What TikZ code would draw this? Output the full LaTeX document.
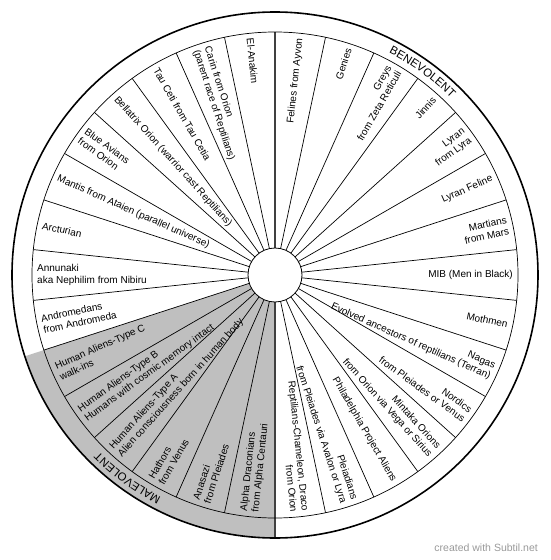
\documentclass[tikz,border=0pt]{standalone}
\usepackage{fontspec}
\setmainfont{Liberation Sans}
\usetikzlibrary{decorations.text}

\begin{document}
\begin{tikzpicture}[x=1pt, y=1pt,
    rlab/.style={anchor=east, align=right, inner sep=0pt, font=\fontsize{10}{11.5}\selectfont},
    llab/.style={anchor=west, align=left, inner sep=0pt, font=\fontsize{10}{11.5}\selectfont},
    spoke/.style={line width=0.7pt},
    divide/.style={line width=1.1pt, black!75},
    band/.style={decorate, decoration={text along path, text align=center, text={|\fontsize{11.5}{13}\selectfont|#1}}}]
    \useasboundingbox (-275,-285) rectangle (275,275);

    % Malevolent wedge
    \fill[gray!50] (0,0) -- (198:263) arc[start angle=198, end angle=270, radius=263] -- cycle;

    % Spokes (30 sectors of 12 degrees)
    \draw[spoke] (6:27) -- (6:243) (18:27) -- (18:243) (30:27) -- (30:243) (42:27) -- (42:243)
      (54:27) -- (54:243) (66:27) -- (66:243) (78:27) -- (78:243) (102:27) -- (102:243)
      (114:27) -- (114:243) (126:27) -- (126:243) (138:27) -- (138:243) (150:27) -- (150:243)
      (162:27) -- (162:243) (174:27) -- (174:243) (186:27) -- (186:243) (198:27) -- (198:243)
      (210:27) -- (210:243) (222:27) -- (222:243) (234:27) -- (234:243) (246:27) -- (246:243)
      (258:27) -- (258:243) (282:27) -- (282:243) (294:27) -- (294:243) (306:27) -- (306:243)
      (318:27) -- (318:243) (330:27) -- (330:243) (342:27) -- (342:243) (354:27) -- (354:243);
    \draw[divide] (90:27) -- (90:243);
    \draw[divide] (270:27) -- (270:263);

    % Rings and hub
    \draw[line width=0.7pt] (0,0) circle (243);
    \draw[line width=1.6pt] (0,0) circle (263);
    \draw[line width=0.8pt, fill=white] (0,0) circle (27);

    % Band texts
    \path[band=BENEVOLENT] (72:249.5) arc[start angle=72, end angle=36, radius=249.5];
    \path[band=MALEVOLENT] (252:249.5) arc[start angle=252, end angle=216, radius=249.5];

    % Right half (read towards the rim)
    \node[rlab, rotate=84] (felines) at (84:238) {Felines from Ayvon};
    \node[rlab, rotate=72] (genies) at (72:238) {Genies};
    \node[rlab, rotate=60] (greys) at (60:238) {Greys\\from Zeta Reticuli};
    \node[rlab, rotate=48] (jinnis) at (48:238) {Jinnis};
    \node[rlab, rotate=36] (lyran) at (36:238) {Lyran\\from Lyra};
    \node[rlab, rotate=24] (lyranfel) at (24:238) {Lyran Feline};
    \node[rlab, rotate=12] (martians) at (12:238) {Martians\\from Mars};
    \node[rlab, rotate=0] (mib) at (0:238) {MIB (Men in Black)};
    \node[rlab, rotate=-12] (mothmen) at (-12:238) {Mothmen};
    \node[rlab, rotate=-24] (nagas) at (-24:238) {Nagas\\Evolved ancestors of reptilians (Terran)};
    \node[rlab, rotate=-36] (nordics) at (-36:238) {Nordics\\from Pleiades or Venus};
    \node[rlab, rotate=-48] (mintaka) at (-48:238) {Mintaka Orions\\from Orion via Vega or Sirius};
    \node[rlab, rotate=-60] (phila) at (-60:238) {Philadelphia Project Aliens};
    \node[rlab, rotate=-72] (pleiad) at (-72:238) {Pleiadians\\from Pleiades via Avalon or Lyra};
    \node[rlab, rotate=-84] (reptil) at (-84:238) {Reptilians-Chameleon, Draco\\from Orion};

    % Left half (read from the rim)
    \node[llab, rotate=84] (alpha) at (264:238) {Alpha Draconians\\from Alpha Centauri};
    \node[llab, rotate=72] (anasazi) at (252:238) {Anasazi\\from Pleiades};
    \node[llab, rotate=60] (hathors) at (240:238) {Hathors\\from Venus};
    \node[llab, rotate=48] (typea) at (228:238) {Human Aliens-Type A\\Alien consciousness born in human body};
    \node[llab, rotate=36] (typeb) at (216:238) {Human Aliens-Type B\\Humans with cosmic memory intact};
    \node[llab, rotate=24] (typec) at (204:238) {Human Aliens-Type C\\walk-ins};
    \node[llab, rotate=12] (androm) at (192:238) {Andromedans\\from Andromeda};
    \node[llab, rotate=0] (annunaki) at (180:238) {Annunaki\\aka Nephilim from Nibiru};
    \node[llab, rotate=-12] (arcturian) at (168:238) {Arcturian};
    \node[llab, rotate=-24] (mantis) at (156:238) {Mantis from Ataien (parallel universe)};
    \node[llab, rotate=-36] (avians) at (144:238) {Blue Avians\\from Orion};
    \node[llab, rotate=-48] (bellatrix) at (132:238) {Bellatrix Orion (warrior cast Reptilians)};
    \node[llab, rotate=-60] (tauceti) at (120:238) {Tau Ceti from Tau Cetia};
    \node[llab, rotate=-72] (carin) at (108:238) {Carin from Orion\\(parent race of Reptilians)};
    \node[llab, rotate=-84] (elanakim) at (96:238) {El-Anakim};

    \node[anchor=east, inner sep=0pt, text=black!40, font=\fontsize{10.5}{12}\selectfont] (credit) at (263,-273) {created with Subtil.net};
\end{tikzpicture}
\end{document}
